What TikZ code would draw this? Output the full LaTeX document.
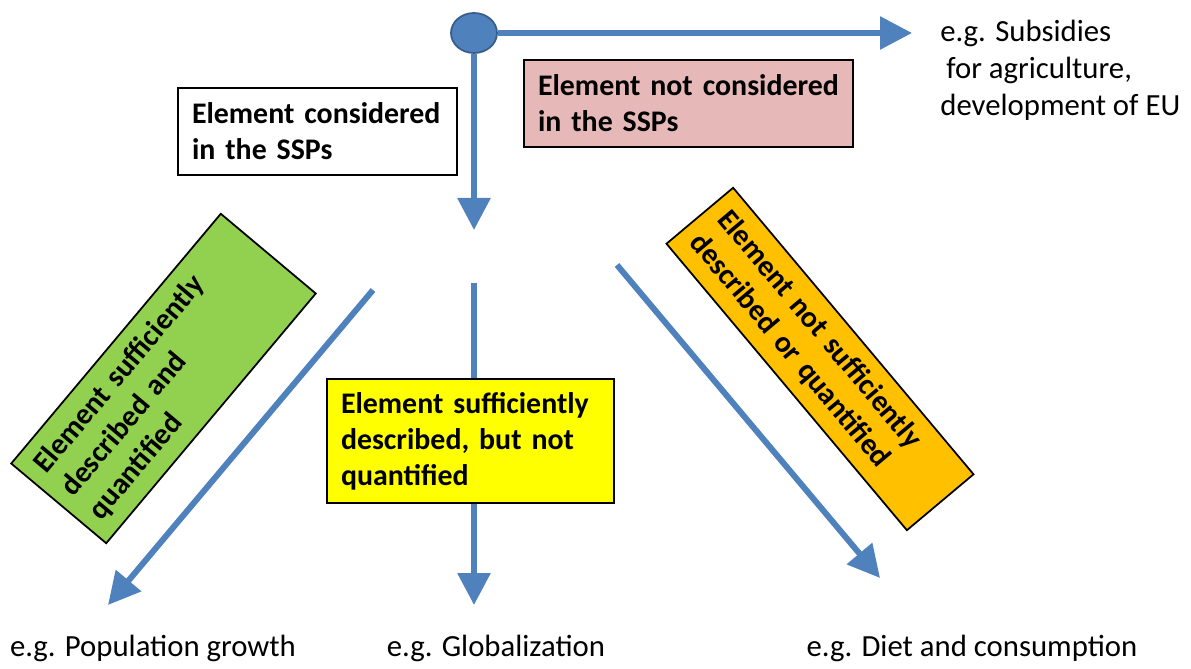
\documentclass[tikz,border=0pt]{standalone}
\usepackage{fontspec}
\setmainfont{Carlito}
\usepackage{tikz}
\usetikzlibrary{arrows.meta,shapes.geometric}
\definecolor{SSPBlue}{HTML}{4F81BD}
\definecolor{SSPDark}{HTML}{385D8A}
\definecolor{SSPPink}{HTML}{E6B9B8}
\definecolor{SSPGreen}{HTML}{92D050}
\definecolor{SSPYellow}{HTML}{FFFF00}
\definecolor{SSPOrange}{HTML}{FFC000}

\begin{document}
\begin{tikzpicture}[
  every node/.style={font=\fontsize{17}{20.5}\selectfont},
  box/.style={draw=black, line width=1pt, align=left, inner xsep=0.28cm,
              inner ysep=0pt},
  whitebox/.style ={box, fill=white,      minimum width=5.58cm, text width=5.02cm, minimum height=1.74cm},
  pinkbox/.style  ={box, fill=SSPPink,    minimum width=6.58cm, text width=6.02cm, minimum height=1.74cm},
  okbox/.style    ={box, fill=SSPGreen,   minimum width=6.52cm, text width=5.96cm, minimum height=2.48cm},
  halfbox/.style  ={box, fill=SSPYellow,  minimum width=5.74cm, text width=5.18cm, minimum height=2.48cm},
  weakbox/.style  ={box, fill=SSPOrange,  minimum width=7.48cm, text width=6.92cm, minimum height=1.74cm},
  example/.style={font=\fontsize{17.5}{21}\selectfont, align=left, inner sep=0pt},
  arr/.style={-{Triangle[length=0.64cm, width=0.64cm]}, line width=3.4pt, SSPBlue},
]
\useasboundingbox (0,0) rectangle (23.82,13.36);

%% ── Decision point ───────────────────────────
\node[ellipse, draw=SSPDark, line width=1pt, fill=SSPBlue,
      minimum width=0.92cm, minimum height=0.80cm, inner sep=0pt]
      at (9.48, 12.70) (dot) {};

\coordinate (notip)  at (18.24, 12.70);
\coordinate (yestip) at (9.48,  8.76);

%% ── Considered / not considered ──────────────
\node[whitebox] at (6.35,  10.73) (yes) {\bfseries Element considered\\ in the SSPs};
\node[pinkbox]  at (13.77, 11.29) (no)  {\bfseries Element not considered\\ in the SSPs};

\node[example, anchor=west] at (18.80, 11.96) (subs)
    {e.g. Subsidies\\\hspace*{0.12cm}for agriculture,\\development of EU};

%% ── Three branches ───────────────────────────
\coordinate (leftstart)  at (7.46,  7.56);
\coordinate (lefttip)    at (2.16,  1.26);
\coordinate (midstart)   at (9.48,  7.70);
\coordinate (midtip)     at (9.48,  1.26);
\coordinate (rightstart) at (12.34, 8.06);
\coordinate (righttip)   at (17.60, 1.80);

\draw[arr] (dot.east)  -- (notip);
\draw[arr] (dot.south) -- (yestip);
\draw[arr] (leftstart)  -- (lefttip);
\draw[arr] (midstart)   -- (midtip);
\draw[arr] (rightstart) -- (righttip);

\node[okbox, rotate=50]    at (3.27,  5.79) (full)
    {\bfseries Element sufficiently\\ described and\\ quantified};
\node[halfbox]             at (9.41,  4.54) (half)
    {\bfseries Element sufficiently\\ described, but not\\ quantified};
\node[weakbox, rotate=-50] at (16.40, 6.18) (weak)
    {\bfseries Element not sufficiently\\ described or quantified};

%% ── Examples ─────────────────────────────────
\node[example] at (3.06,  0.40) (pop)  {e.g. Population growth};
\node[example] at (9.92,  0.40) (glob) {e.g. Globalization};
\node[example] at (19.44, 0.40) (diet) {e.g. Diet and consumption};

\end{tikzpicture}
\end{document}
